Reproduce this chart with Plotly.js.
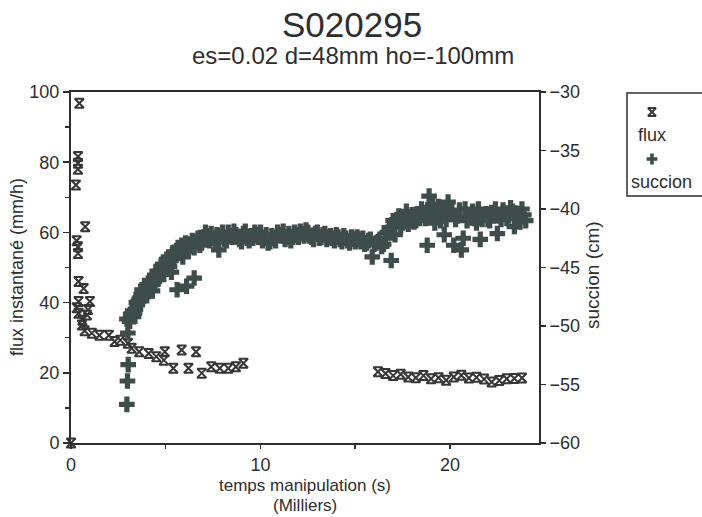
<!DOCTYPE html>
<html>
<head>
<meta charset="utf-8">
<script src="https://cdn.plot.ly/plotly-3.0.1.min.js"></script>
<style>html,body{margin:0;padding:0;background:#fff;}#chart{width:702px;height:517px;}</style>
</head>
<body>
<div id="chart"></div>
<script>
// ---- data (time in thousands of seconds) ----
var fluxTime = [0, 0.44, 0.37, 0.37, 0.37, 0.26, 0.75, 0.30, 0.37, 0.37, 0.40, 0.67, 0.40, 1.00, 0.30, 0.90, 0.40, 0.84, 0.60, 0.58, 0.72, 1.10, 1.50, 2.00, 2.30, 2.60, 3.00, 3.20, 3.60, 4.10, 4.50, 4.95, 4.90, 5.40, 5.84, 6.20, 6.60, 6.90, 7.40, 7.85, 8.30, 8.70, 9.10,
  16.2, 16.6, 17.0, 17.4, 17.8, 18.2, 18.6, 19.0, 19.4, 19.8, 20.2, 20.6, 21.0, 21.4, 21.8, 22.2, 22.6, 23.0, 23.4, 23.8];
var fluxValues = [0, 96.8, 81.6, 79.7, 78.0, 73.5, 61.6, 57.6, 55.9, 54.0, 46.0, 44.0, 40.3, 40.3, 38.5, 38.0, 37.0, 36.5, 35.0, 33.6, 32.0, 31.3, 30.7, 30.7, 28.9, 29.3, 28.4, 27.0, 26.0, 25.5, 24.6, 26.0, 23.6, 21.3, 26.5, 21.3, 26.0, 19.9, 21.7, 21.3, 21.3, 21.7, 22.7,
  20.3, 19.8, 19.2, 19.6, 18.8, 18.6, 19.2, 18.3, 18.6, 17.9, 18.8, 19.3, 18.5, 18.7, 18.2, 17.4, 17.8, 18.3, 18.4, 18.5];

var succTime = [2.95, 3.0, 3.02, 2.98, 2.95, 3.1, 3.2, 3.3, 3.4, 3.5, 3.6, 3.7, 3.8, 3.9, 4.0, 4.1, 4.2, 4.3, 4.4, 4.5, 4.6, 4.7, 4.8, 4.9, 5.0, 5.1, 5.2, 5.3, 5.4, 5.5, 5.6, 5.7, 5.8, 5.9, 6.0, 6.1, 6.2, 6.3, 6.5, 6.5, 6.6, 6.8, 7.0, 7.1, 7.3, 7.5, 7.8, 7.9, 8.1, 8.3, 8.5, 8.7, 8.9, 9.1, 9.3, 9.5, 9.7, 9.9, 10.1, 10.3, 10.5, 10.7, 10.9, 11.1, 11.3, 11.5, 11.7, 11.9, 12.1, 12.3, 12.5, 12.7, 12.9, 13.1, 13.3, 13.5, 13.7, 13.9, 14.1, 14.3, 14.5, 14.7, 14.9, 15.1, 15.3, 15.5, 15.7, 15.9, 16.0, 16.2, 16.4, 16.6, 16.8, 16.9, 17.0, 17.1, 17.3, 17.5, 17.7, 17.9, 18.1, 18.3, 18.5, 18.7, 18.8, 18.9, 19.1, 19.3, 19.5, 19.7, 19.9, 20.1, 20.2, 20.4, 20.6, 20.7, 20.8, 21.0, 21.2, 21.4, 21.6, 21.8, 22.0, 22.2, 22.5, 22.6, 22.8, 23.0, 23.2, 23.4, 23.6, 23.8, 24.0,
  3.15, 3.25, 3.35, 3.45, 3.55, 3.65, 3.75, 3.85, 3.95, 4.05, 4.15, 4.25, 4.35, 4.45, 4.55, 4.65, 4.75, 4.85, 4.95, 5.05, 5.15, 5.25, 5.35, 5.45, 5.55, 5.65, 5.75, 5.85, 5.95, 6.05, 6.25, 6.4, 6.7, 6.9, 7.2, 7.4, 7.6, 7.7, 8.0, 8.2, 8.4, 8.6, 8.8, 9.0, 9.2, 9.4, 9.6, 9.8, 10.0, 10.2, 10.4, 10.6, 10.8, 11.0, 11.2, 11.4, 11.6, 11.8, 12.0, 12.2, 12.4, 12.6, 12.8, 13.0, 13.2, 13.4, 13.6, 13.8, 14.0, 14.2, 14.4, 14.6, 14.8, 15.0, 15.2, 15.4, 15.6, 15.8, 16.1, 16.3, 16.5, 16.7,
  17.2, 17.4, 17.6, 17.8, 18.0, 18.2, 18.4, 18.6, 19.0, 19.2, 19.4, 19.6, 19.8, 20.0, 20.3, 20.5, 20.9, 21.1, 21.3, 21.5, 21.7, 21.9, 22.1, 22.3, 22.4, 22.7, 22.9, 23.1, 23.3, 23.5, 23.7, 23.9];
var succValues = [-49.4, -50.6, -53.3, -54.7, -56.7, -49.6, -49.0, -49.2, -48.6, -48.2, -47.7, -47.3, -47.5, -46.9, -47.4, -46.8, -46.5, -47.0, -46.2, -45.8, -46.0, -45.5, -45.1, -45.6, -44.8, -44.5, -44.9, -45.4, -44.2, -44.0, -46.9, -43.8, -43.5, -44.1, -43.4, -46.6, -43.6, -43.0, -45.9, -43.3, -42.8, -43.1, -42.4, -42.0, -42.7, -42.5, -43.5, -42.3, -42.6, -42.0, -42.4, -42.2, -42.6, -42.1, -42.5, -42.3, -42.0, -42.4, -42.7, -42.2, -42.8, -42.5, -42.0, -42.3, -42.6, -42.1, -42.4, -42.2, -41.9, -42.3, -42.0, -42.4, -42.1, -42.5, -42.2, -42.6, -42.3, -42.7, -42.4, -42.8, -42.5, -42.9, -42.6, -42.4, -42.8, -43.0, -42.7, -44.1, -43.0, -42.8, -43.2, -42.5, -41.6, -44.4, -41.0, -42.2, -40.6, -41.2, -40.2, -41.0, -41.1, -40.4, -40.0, -40.8, -43.1, -38.9, -39.6, -40.3, -41.0, -42.2, -39.4, -40.2, -43.1, -40.6, -43.5, -42.5, -40.0, -40.7, -40.2, -41.2, -42.6, -40.5, -40.9, -40.3, -42.1, -40.6, -40.1, -40.8, -39.9, -41.5, -40.4, -40.0, -41.0,
  -49.0, -48.7, -48.9, -48.0, -47.9, -47.6, -46.9, -47.1, -46.6, -46.9, -46.1, -46.4, -45.9, -45.7, -45.3, -45.6, -44.9, -44.7, -45.0, -44.3, -44.1, -44.4, -43.9, -43.7, -43.9, -43.3, -43.6, -43.1, -43.4, -42.9, -43.1, -42.7, -42.5, -42.9, -42.3, -42.1, -42.8, -42.2, -42.0, -42.7, -42.3, -41.9, -42.4, -42.8, -41.9, -42.7, -42.5, -42.2, -42.0, -42.5, -42.9, -42.3, -42.7, -42.2, -41.9, -42.4, -42.7, -42.0, -42.4, -42.1, -41.8, -42.3, -42.6, -42.0, -42.4, -42.1, -42.4, -42.5, -42.2, -42.6, -42.3, -42.7, -42.4, -42.8, -42.6, -42.5, -42.9, -42.6, -42.9, -42.6, -43.0, -42.0,
  -40.9, -41.5, -40.7, -41.3, -40.5, -41.0, -40.8, -40.3, -40.5, -41.2, -39.8, -40.6, -40.9, -40.4, -40.9, -40.1, -41.0, -40.5, -40.8, -40.0, -40.9, -40.4, -41.0, -40.6, -40.0, -40.9, -40.4, -40.6, -40.2, -40.8, -41.1, -40.5];

var fluxName = 'flux';
var succName = 'succion';
var titleText = 'S020295';
var subtitleText = 'es=0.02 d=48mm ho=-100mm';
var xTitle = 'temps manipulation (s)';
var xTitle2 = '(Milliers)';
var yTitle = 'flux instantané (mm/h)';
var y2Title = 'succion (cm)';

// ---- styling ----
var FONT = '"Liberation Sans", Arial, Helvetica, sans-serif';
var INK = '#2e2e2e';
var succColor = '#3e4c4a';
var fluxColor = '#363636';

// layout geometry (pixels)
var L = 71, R = 0, T = 92, B = 74, W = 702, H = 517;
var pw = W - L - R, ph = H - T - B;
var plotRight = 539;
function px2x(p){ return (p - L) / pw; }
function px2y(p){ return (H - B - p) / ph; }

var traces = [
  {x: succTime, y: succValues, name: succName, type: 'scatter', mode: 'markers',
   xaxis: 'x', yaxis: 'y2', cliponaxis: false, showlegend: false,
   marker: {symbol: 'cross', size: 13, color: succColor, line: {width: 0}}},
  {x: fluxTime, y: fluxValues, name: fluxName, type: 'scatter', mode: 'markers',
   xaxis: 'x', yaxis: 'y', cliponaxis: false, showlegend: false,
   marker: {symbol: 'hourglass-open', size: 9, color: fluxColor, line: {width: 2, color: fluxColor}}},
  // legend keys
  {x: [0.333], y: [0.816], xaxis: 'x3', yaxis: 'y3', mode: 'markers', showlegend: false, hoverinfo: 'skip',
   marker: {symbol: 'hourglass-open', size: 8, color: fluxColor, line: {width: 2, color: fluxColor}}},
  {x: [0.333], y: [0.359], xaxis: 'x3', yaxis: 'y3', mode: 'markers', showlegend: false, hoverinfo: 'skip',
   marker: {symbol: 'cross', size: 9, color: succColor}}
];

var layout = {
  width: W, height: H,
  margin: {l: L, r: R, t: T, b: B, pad: 0},
  paper_bgcolor: '#fff', plot_bgcolor: '#fff',
  font: {family: FONT, color: INK, size: 18},
  showlegend: false,
  xaxis: {
    domain: [0, px2x(plotRight)], range: [0, 24.7], anchor: 'y',
    showgrid: false, zeroline: false, showline: true, mirror: true,
    linecolor: INK, linewidth: 2,
    tickmode: 'linear', tick0: 0, dtick: 10, ticks: 'outside', ticklen: 4, tickwidth: 1.5, tickcolor: INK,
    minor: {dtick: 5, tick0: 0, ticks: 'outside', ticklen: 4, tickwidth: 1.5, tickcolor: INK},
    tickfont: {size: 18, family: FONT, color: INK}
  },
  yaxis: {
    range: [0, 100], anchor: 'x',
    showgrid: false, zeroline: false, showline: true, linecolor: INK, linewidth: 2,
    tickmode: 'linear', tick0: 0, dtick: 20, ticks: 'outside', ticklen: 6, tickwidth: 1.5, tickcolor: INK,
    minor: {dtick: 10, tick0: 0, ticks: 'outside', ticklen: 4, tickwidth: 1.5, tickcolor: INK},
    tickfont: {size: 18, family: FONT, color: INK}
  },
  yaxis2: {
    range: [-60, -30], overlaying: 'y', side: 'right', anchor: 'x',
    showgrid: false, zeroline: false, showline: true, linecolor: INK, linewidth: 2,
    tickmode: 'linear', tick0: -60, dtick: 5, ticks: 'outside', ticklen: 5, tickwidth: 1.5, tickcolor: INK,
    tickfont: {size: 18, family: FONT, color: INK}
  },
  xaxis3: {domain: [px2x(627), 1], range: [0, 1], visible: false, anchor: 'y3', fixedrange: true},
  yaxis3: {domain: [px2y(196), px2y(93)], range: [0, 1], visible: false, anchor: 'x3', fixedrange: true},
  shapes: [
    {type: 'rect', xref: 'paper', yref: 'paper', x0: px2x(627), x1: px2x(712), y0: px2y(196), y1: px2y(93),
     line: {color: INK, width: 1.5}, fillcolor: 'rgba(0,0,0,0)'}
  ],
  annotations: [
    {text: titleText, xref: 'paper', yref: 'paper', x: px2x(352), y: px2y(25), xanchor: 'center', yanchor: 'middle',
     showarrow: false, font: {size: 35, family: FONT, color: INK}},
    {text: subtitleText, xref: 'paper', yref: 'paper', x: px2x(353), y: px2y(56), xanchor: 'center', yanchor: 'middle',
     showarrow: false, font: {size: 24, family: FONT, color: INK}},
    {text: xTitle, xref: 'paper', yref: 'paper', x: px2x(305), y: px2y(485), xanchor: 'center', yanchor: 'middle',
     showarrow: false, font: {size: 17, family: FONT, color: INK}},
    {text: xTitle2, xref: 'paper', yref: 'paper', x: px2x(305), y: px2y(505), xanchor: 'center', yanchor: 'middle',
     showarrow: false, font: {size: 17, family: FONT, color: INK}},
    {text: yTitle, xref: 'paper', yref: 'paper', x: px2x(17), y: px2y(267), xanchor: 'center', yanchor: 'middle',
     textangle: -90, showarrow: false, font: {size: 18, family: FONT, color: INK}},
    {text: y2Title, xref: 'paper', yref: 'paper', x: px2x(592), y: px2y(275), xanchor: 'center', yanchor: 'middle',
     textangle: -90, showarrow: false, font: {size: 19, family: FONT, color: INK}},
    {text: fluxName, xref: 'paper', yref: 'paper', x: px2x(652), y: px2y(135), xanchor: 'center', yanchor: 'middle',
     showarrow: false, font: {size: 18, family: FONT, color: INK}},
    {text: succName, xref: 'paper', yref: 'paper', x: px2x(629), y: px2y(182), xanchor: 'left', yanchor: 'middle',
     showarrow: false, font: {size: 18, family: FONT, color: INK}}
  ]
};

Plotly.newPlot('chart', traces, layout, {staticPlot: true, displayModeBar: false});
</script>
</body>
</html>
